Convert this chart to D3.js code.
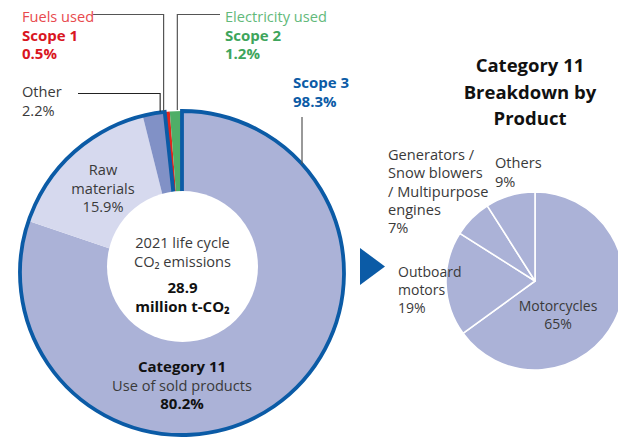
<!DOCTYPE html>
<html>
<head>
<meta charset="utf-8">
<script src="https://cdn.jsdelivr.net/npm/d3@7"></script>
<style>
  html, body { margin: 0; padding: 0; background: #fff; }
  svg { display: block; }
  text { font-family: "Open Sans", "Noto Sans", sans-serif; }
</style>
</head>
<body>
<svg id="chart" width="618" height="439"></svg>
<script>
// Life-cycle CO2 emissions 2021, share of total (%)
const lifecycleCategories = ["Category 11", "Raw materials", "Other", "Scope 1", "Scope 2"];
const lifecycleShares = [80.2, 15.9, 2.2, 0.5, 1.2];
const lifecycleColors = ["#abb2d7", "#d6d9ee", "#8191c6", "#e1261c", "#4fae67"];
const scope3Categories = ["Category 11", "Raw materials", "Other"];
const scope3Share = 98.3;
const totalEmissions = "28.9";

// Category 11 breakdown by product (%)
const productCategories = ["Motorcycles", "Outboard motors", "Generators / Snow blowers / Multipurpose engines", "Others"];
const productShares = [65, 19, 7, 9];

const svg = d3.select("#chart");
const blue = "#0b5ba6";
const textGrey = "#3a3a3a";
const REG = 14.6, BOLD = 15;

// ---------- main donut ----------
const cx = 182, cy = 273, R = 162;
const g = svg.append("g").attr("transform", `translate(${cx},${cy})`);

const pie = d3.pie().sort(null).value(d => d.value);
const lifeData = pie(lifecycleCategories.map((c, i) => ({ name: c, value: lifecycleShares[i], color: lifecycleColors[i] })));
const arc = d3.arc().innerRadius(0).outerRadius(R);

g.selectAll("path.slice")
  .data(lifeData)
  .join("path")
  .attr("class", "slice")
  .attr("d", arc)
  .attr("fill", d => d.data.color);

// Scope 3 outline spans the first three slices
const s3 = lifeData.filter(d => scope3Categories.includes(d.data.name));
g.append("path")
  .attr("d", d3.arc()({ innerRadius: 0, outerRadius: R, startAngle: s3[0].startAngle, endAngle: s3[s3.length - 1].endAngle }))
  .attr("fill", "none")
  .attr("stroke", blue)
  .attr("stroke-width", 3.8)
  .attr("stroke-linejoin", "miter");

// centre disc
g.append("circle").attr("cx", 0.5).attr("cy", -6.5).attr("r", 75.5).attr("fill", "#fff");

// helper: point on outer edge at fraction t of a slice
function edgePoint(d, t, r) {
  const a = d.startAngle + (d.endAngle - d.startAngle) * t;
  return [cx + r * Math.sin(a), cy - r * Math.cos(a)];
}

const leader = "#555";
// Fuels used (Scope 1)
const p1 = edgePoint(lifeData[3], -0.2, R + 1);
svg.append("path").attr("d", `M93,14.5H${p1[0]}V${p1[1]}`).attr("fill", "none").attr("stroke", leader).attr("stroke-width", 1.2);
// Electricity used (Scope 2)
const p2 = edgePoint(lifeData[4], 0.62, R + 1);
svg.append("path").attr("d", `M220,14.5H${p2[0]}V${p2[1]}`).attr("fill", "none").attr("stroke", leader).attr("stroke-width", 1.2);
// Other
const p3 = edgePoint(lifeData[2], 0.8, R + 1);
svg.append("path").attr("d", `M78,93.5H${p3[0]}V${p3[1]}`).attr("fill", "none").attr("stroke", "#222").attr("stroke-width", 1.1);
// Scope 3
const p4y = cy - Math.sqrt(R * R - (302 - cx) * (302 - cx));
svg.append("path").attr("d", `M302,117V${p4y}`).attr("fill", "none").attr("stroke", leader).attr("stroke-width", 1.2);

function lines(x, y0, dy, rows, anchor, baseSize) {
  rows.forEach((r, i) => {
    svg.append("text")
      .attr("x", x).attr("y", y0 + i * dy)
      .attr("text-anchor", anchor || "start")
      .attr("font-size", r.size || baseSize || (r.bold ? BOLD : REG))
      .attr("font-weight", r.bold ? 700 : 400)
      .attr("fill", r.color || textGrey)
      .text(r.text);
  });
}

lines(22, 22, 18.5, [
  { text: "Fuels used", color: "#e8494d" },
  { text: "Scope 1", bold: true, color: "#d9161f" },
  { text: lifecycleShares[3] + "%", bold: true, color: "#d9161f" }
]);
lines(225, 22, 18.5, [
  { text: "Electricity used", color: "#62b97a" },
  { text: "Scope 2", bold: true, color: "#3ea55c" },
  { text: lifecycleShares[4] + "%", bold: true, color: "#3ea55c" }
]);
lines(22, 97, 18.5, [
  { text: "Other" },
  { text: lifecycleShares[2] + "%" }
]);
lines(293, 88, 18.5, [
  { text: "Scope 3", bold: true, color: blue },
  { text: scope3Share + "%", bold: true, color: blue }
]);
lines(103, 175, 18.5, [
  { text: "Raw" },
  { text: "materials" },
  { text: lifecycleShares[1] + "%" }
], "middle");
lines(182.5, 248, 19, [
  { text: "2021 life cycle" },
  { text: "CO₂ emissions" }
], "middle");
lines(182.5, 293, 19, [
  { text: totalEmissions, bold: true, color: "#111" },
  { text: "million t-CO₂", bold: true, color: "#111" }
], "middle");
lines(182, 372, 18.5, [
  { text: "Category 11", bold: true, color: "#111" },
  { text: "Use of sold products" },
  { text: lifecycleShares[0] + "%", bold: true, color: "#111" }
], "middle");

// arrow
svg.append("path").attr("d", "M360,248L385,266.5L360,285Z").attr("fill", blue);

// ---------- product pie ----------
const pcx = 535, pcy = 281, pr = 89;
const pg = svg.append("g").attr("transform", `translate(${pcx},${pcy})`);
const prodData = pie(productCategories.map((c, i) => ({ name: c, value: productShares[i] })));
pg.selectAll("path")
  .data(prodData)
  .join("path")
  .attr("d", d3.arc().innerRadius(0).outerRadius(pr))
  .attr("fill", "#abb2d7")
  .attr("stroke", "#fff")
  .attr("stroke-width", 1.6)
  .attr("stroke-linejoin", "round");

lines(530, 72, 26.5, [
  { text: "Category 11", bold: true, color: "#111", size: 18.5 },
  { text: "Breakdown by", bold: true, color: "#111", size: 18.5 },
  { text: "Product", bold: true, color: "#111", size: 18.5 }
], "middle");

lines(388, 160, 18.3, [
  { text: "Generators /" },
  { text: "Snow blowers" },
  { text: "/ Multipurpose" },
  { text: "engines" },
  { text: productShares[2] + "%" }
]);
lines(495, 168, 18.5, [
  { text: productCategories[3] },
  { text: productShares[3] + "%" }
]);
lines(398, 277, 18, [
  { text: "Outboard" },
  { text: "motors" },
  { text: productShares[1] + "%" }
], "start", 14);
lines(558, 311, 17.5, [
  { text: productCategories[0] },
  { text: productShares[0] + "%" }
], "middle", 14);
</script>
</body>
</html>
